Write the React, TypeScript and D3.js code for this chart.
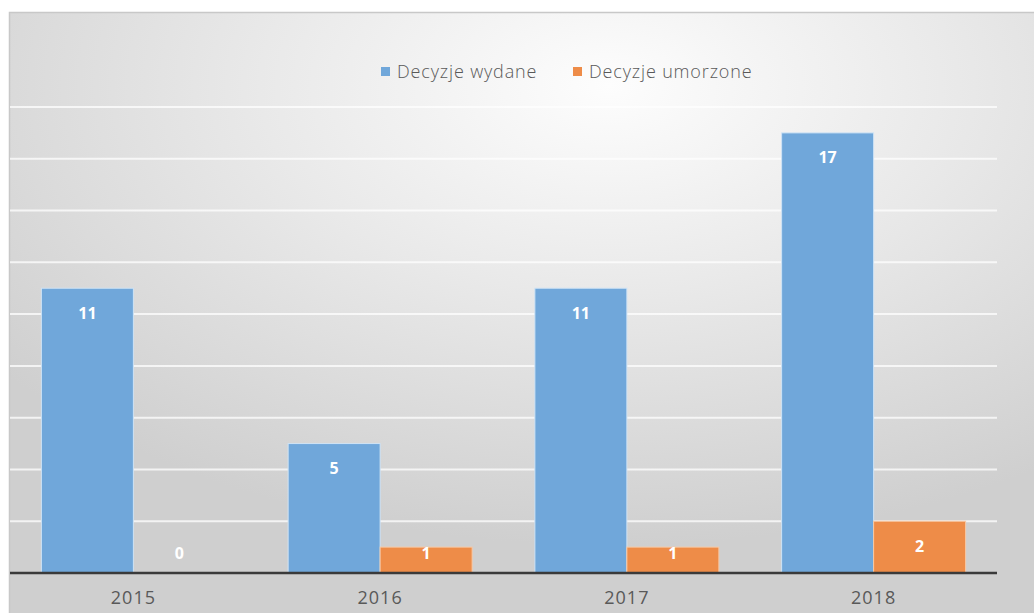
import React from "react";
import * as d3 from "d3";

const categories = ["2015", "2016", "2017", "2018"];
const seriesNames = ["Decyzje wydane", "Decyzje umorzone"];
const issued = [11, 5, 11, 17];
const discontinued = [0, 1, 1, 2];
const gridTicks = [2, 4, 6, 8, 10, 12, 14, 16, 18];

const W = 1034;
const H = 613;
const colors = ["#70a7da", "#ee8c48"];

export default function App() {
  const left = 10;
  const right = 997;
  const baseY = 573;
  const topY = 107;

  const x0 = d3.scaleBand<string>().domain(categories).range([left, right]).paddingInner(0.2543).paddingOuter(0.1272);
  const x1 = d3.scaleBand<number>().domain([0, 1]).range([0, x0.bandwidth()]);
  const y = d3.scaleLinear().domain([0, 18]).range([baseY, topY]);

  const series = [issued, discontinued];
  const font = "'Open Sans', 'Liberation Sans', sans-serif";

  return (
    <svg width={W} height={H} style={{ position: "absolute", left: 0, top: 0 }} xmlns="http://www.w3.org/2000/svg">
      <defs>
        <radialGradient id="bg" cx="58%" cy="12%" r="75%" fx="58%" fy="12%">
          <stop offset="0%" stopColor="#fdfdfd" />
          <stop offset="45%" stopColor="#e9e9e9" />
          <stop offset="100%" stopColor="#cfcfcf" />
        </radialGradient>
      </defs>
      <rect x={0} y={0} width={W} height={H} fill="#ffffff" />
      <rect x={9.5} y={12.5} width={W} height={H} fill="url(#bg)" stroke="#c8c8c8" strokeWidth={1.5} />
      {gridTicks.map((t) => (
        <line key={t} x1={left} x2={right} y1={y(t)} y2={y(t)} stroke="#ffffff" strokeWidth={2} opacity={0.75} />
      ))}
      {categories.map((c, i) => (
        <g key={c} transform={`translate(${x0(c)},0)`}>
          {series.map((s, k) => {
            const v = s[i];
            const bx = x1(k)!;
            const bw = x1.bandwidth();
            const top = y(v);
            const ly = Math.min(top + 25, baseY - 20);
            return (
              <g key={k}>
                {v > 0 && (
                  <rect x={bx} y={top} width={bw} height={baseY - top} fill={colors[k]} stroke={k === 0 ? "#cfe3f5" : "#f7c9a6"} strokeWidth={1} />
                )}
                <text x={bx + bw / 2} y={ly} dy="0.35em" textAnchor="middle" fill="#ffffff" fontFamily={font} fontWeight={700} fontSize={16}>
                  {v}
                </text>
              </g>
            );
          })}
        </g>
      ))}
      <line x1={left} x2={right} y1={baseY} y2={baseY} stroke="#3a3a3a" strokeWidth={2.5} />
      {categories.map((c) => (
        <text key={c} x={x0(c)! + x0.bandwidth() / 2} y={604} textAnchor="middle" fill="#595959" fontFamily={font} fontSize={18} letterSpacing={1}>
          {c}
        </text>
      ))}
      <g>
        <rect x={381} y={67} width={9} height={9} fill={colors[0]} />
        <text x={397} y={72} dy="0.35em" fill="#595959" fontFamily={font} fontWeight={300} fontSize={18} letterSpacing={0.85}>
          {seriesNames[0]}
        </text>
        <rect x={573} y={67} width={9} height={9} fill={colors[1]} />
        <text x={589} y={72} dy="0.35em" fill="#595959" fontFamily={font} fontWeight={300} fontSize={18} letterSpacing={0.85}>
          {seriesNames[1]}
        </text>
      </g>
    </svg>
  );
}
